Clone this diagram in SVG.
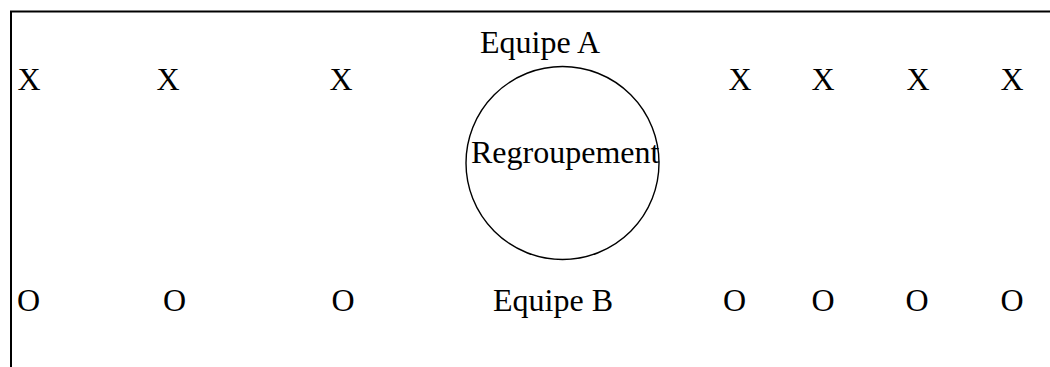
<svg xmlns="http://www.w3.org/2000/svg" width="1050" height="367" viewBox="0 0 1050 367">
<style>
text{font-family:"Liberation Serif","Times New Roman",serif;font-size:32px;fill:#000}
.frame{fill:none;stroke:#000;stroke-width:2}
.circ{fill:none;stroke:#000;stroke-width:1.4}
</style>
<rect width="1050" height="367" fill="#fff"/>
<g id="frame"><path class="frame" d="M11 367 V11.5 H1050"/></g>
<g id="teamA">
<text x="17.5" y="90">X</text>
<text x="156.5" y="90">X</text>
<text x="329.5" y="90">X</text>
<text x="728.5" y="90">X</text>
<text x="811.5" y="90">X</text>
<text x="906.5" y="90">X</text>
<text x="1000.5" y="90">X</text>
</g>
<g id="labelA"><text x="480" y="53">Equipe A</text></g>
<g id="regroupement">
<circle class="circ" cx="562.5" cy="163" r="96.5"/>
<text x="471" y="163">Regroupement</text>
</g>
<g id="teamB">
<text x="17" y="311">O</text>
<text x="163" y="311">O</text>
<text x="331.5" y="311">O</text>
<text x="723" y="311">O</text>
<text x="811.5" y="311">O</text>
<text x="905.5" y="311">O</text>
<text x="1000.5" y="311">O</text>
</g>
<g id="labelB"><text x="493" y="311">Equipe B</text></g>
<g id="connectors"></g>
</svg>
